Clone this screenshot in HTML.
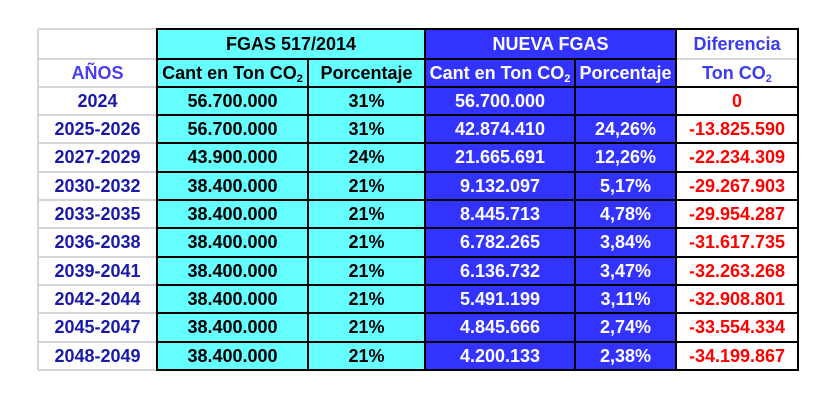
<!DOCTYPE html>
<html><head><meta charset="utf-8"><style>
html,body{margin:0;padding:0;background:#fff;width:822px;height:412px;overflow:hidden;position:relative}
.cell{position:absolute;display:flex;align-items:center;justify-content:center;font-family:"Liberation Sans",sans-serif;font-weight:bold;font-size:18px;white-space:nowrap;overflow:hidden;box-sizing:border-box}
.ln{position:absolute}
sub{font-size:11px;vertical-align:-3px;line-height:0}
</style></head><body>
<div id="r"></div>
<script>
var X=[38,157,308,425,575,676,798];
var Y=[29,59,87,115,143,172,200,228,257,285,313,342,370];
var rows=[
["2024","56.700.000","31%","56.700.000","","0"],
["2025-2026","56.700.000","31%","42.874.410","24,26%","-13.825.590"],
["2027-2029","43.900.000","24%","21.665.691","12,26%","-22.234.309"],
["2030-2032","38.400.000","21%","9.132.097","5,17%","-29.267.903"],
["2033-2035","38.400.000","21%","8.445.713","4,78%","-29.954.287"],
["2036-2038","38.400.000","21%","6.782.265","3,84%","-31.617.735"],
["2039-2041","38.400.000","21%","6.136.732","3,47%","-32.263.268"],
["2042-2044","38.400.000","21%","5.491.199","3,11%","-32.908.801"],
["2045-2047","38.400.000","21%","4.845.666","2,74%","-33.554.334"],
["2048-2049","38.400.000","21%","4.200.133","2,38%","-34.199.867"]];
var bg=["#fff","#66ffff","#66ffff","#3333ff","#3333ff","#fff"];
var fg=["#1a1aa8","#000","#000","#fff","#fff","#ff0000"];
var h="";
function cell(x0,x1,y0,y1,b,c,t){h+='<div class="cell" style="left:'+x0+'px;top:'+y0+'px;width:'+(x1-x0)+'px;height:'+(y1-y0)+'px;background:'+b+';color:'+c+'"><span>'+t+'</span></div>';}
function ln(x,y,w,hh,c){h+='<div class="ln" style="left:'+x+'px;top:'+y+'px;width:'+w+'px;height:'+hh+'px;background:'+c+'"></div>';}
cell(X[0],X[1],Y[0],Y[1],"#fff","#000","");
cell(X[1],X[3],Y[0],Y[1],bg[1],"#000","FGAS 517/2014");
cell(X[3],X[5],Y[0],Y[1],bg[3],"#fff","NUEVA FGAS");
cell(X[5],X[6],Y[0],Y[1],"#fff","#3b3bf0","Diferencia");
var hd=["AÑOS","Cant en Ton CO<sub>2</sub>","Porcentaje","Cant en Ton CO<sub>2</sub>","Porcentaje","Ton CO<sub>2</sub>"];
var hc=["#4a3cf0","#000","#000","#fff","#fff","#3b3bf0"];
for(var j=0;j<6;j++)cell(X[j],X[j+1],Y[1],Y[2],bg[j],hc[j],hd[j]);
for(var i=0;i<10;i++)for(var j=0;j<6;j++)cell(X[j],X[j+1],Y[i+2],Y[i+3],bg[j],fg[j],rows[i][j]);
for(var i=0;i<13;i++)ln(X[0],Y[i]-1,X[1]-X[0],2,"#d4d4d4");
ln(X[0]-1,Y[0],2,Y[12]-Y[0],"#d4d4d4");
ln(X[5],Y[1]-1,X[6]-X[5],2,"#d4d4d4");
for(var i=0;i<13;i++){if(i==1){ln(X[1]-1,Y[1]-1,X[5]-X[1]+2,2,"#000");continue;}ln(X[1]-1,Y[i]-1,X[6]-X[1]+2,2,"#000");}
for(var j=1;j<7;j++){var y0=(j==2||j==4)?Y[1]:Y[0];ln(X[j]-1,y0-1,2,Y[12]-y0+2,"#000");}
document.getElementById("r").innerHTML=h;
</script>
</body></html>
